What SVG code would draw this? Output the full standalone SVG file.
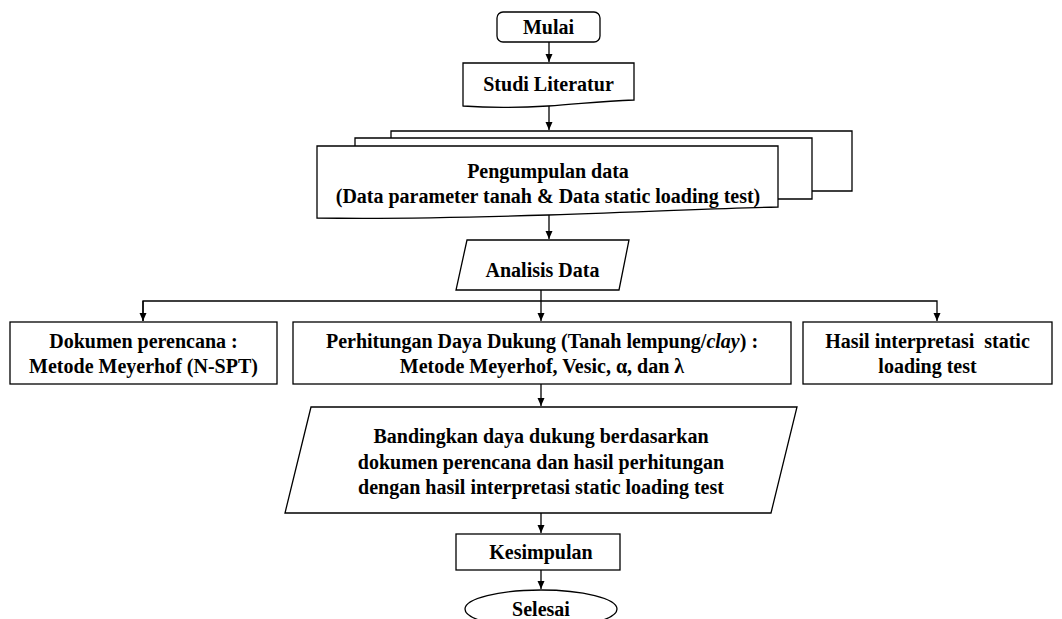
<svg xmlns="http://www.w3.org/2000/svg" width="1062" height="619" viewBox="0 0 1062 619">
<style>
.s{fill:#fff;stroke:#000;stroke-width:1.3}
.b{fill:none;stroke:#000;stroke-width:1.3}
.t{font-family:'Times New Roman','Liberation Serif',Times,serif;font-weight:700;font-size:20px;fill:#000;text-anchor:middle}
.c{fill:none;stroke:#000;stroke-width:1.3}
</style>
<defs>
<marker id="ah" markerWidth="9" markerHeight="9" refX="8" refY="4.5" orient="auto" markerUnits="userSpaceOnUse">
<path d="M0,1 L8,4.5 L0,8 Z" fill="#000"/>
</marker>
</defs>
<rect width="1062" height="619" fill="#fff"/>
<g id="connectors">
<path class="c" d="M549,42 V62" marker-end="url(#ah)"/>
<path class="c" d="M549,105 V130" marker-end="url(#ah)"/>
<path class="c" d="M549,215 V239" marker-end="url(#ah)"/>
<path class="c" d="M541,290 V321" marker-end="url(#ah)"/>
<path class="c" d="M143,321 V301 H937 V321" marker-end="url(#ah)"/>
<path class="c" d="M143,301 V321" marker-end="url(#ah)"/>
<path class="c" d="M541,384 V406" marker-end="url(#ah)"/>
<path class="c" d="M541,513 V533" marker-end="url(#ah)"/>
<path class="c" d="M541,570 V589" marker-end="url(#ah)"/>
</g>
<g id="mulai">
<rect class="s" x="497" y="12" width="103" height="30" rx="6"/>
<text class="t" x="548.5" y="34">Mulai</text>
</g>
<g id="studi">
<path class="s" d="M463,63 H634 V100 C 600,101 580,104 548,106 C 515,108 490,108 463,106 Z"/>
<text class="t" x="548.5" y="91">Studi Literatur</text>
</g>
<g id="pengumpulan">
<path class="b" d="M391,138 V131 H852 V191 H812"/>
<path class="b" d="M355,146 V138 H812 V199 H778"/>
<path class="s" d="M317,146 H778 V207 C 720,208 650,212 548,215 C 450,218 380,219 317,218 Z"/>
<text class="t" x="548" y="178">Pengumpulan data</text>
<text class="t" x="548" y="203">(Data parameter tanah &amp; Data static loading test)</text>
</g>
<g id="analisis">
<path class="s" d="M467,240 H629 L619,290 H456 Z"/>
<text class="t" x="542.5" y="277">Analisis Data</text>
</g>
<g id="dokumen">
<rect class="s" x="10" y="322" width="267" height="62"/>
<text class="t" x="143.5" y="348">Dokumen perencana :</text>
<text class="t" x="143.5" y="373">Metode Meyerhof (N-SPT)</text>
</g>
<g id="perhitungan">
<rect class="s" x="293" y="322" width="498" height="62"/>
<text class="t" x="542" y="348">Perhitungan Daya Dukung (Tanah lempung/<tspan font-style="italic">clay</tspan>) :</text>
<text class="t" x="542" y="373">Metode Meyerhof, Vesic, α, dan λ</text>
</g>
<g id="hasil">
<rect class="s" x="803" y="322" width="249" height="62"/>
<text class="t" x="927.5" y="348" xml:space="preserve">Hasil interpretasi  static</text>
<text class="t" x="927.5" y="373">loading test</text>
</g>
<g id="bandingkan">
<path class="s" d="M311,407 H797 L771,513 H285 Z"/>
<text class="t" x="541" y="443">Bandingkan daya dukung berdasarkan</text>
<text class="t" x="541" y="469">dokumen perencana dan hasil perhitungan</text>
<text class="t" x="541" y="494">dengan hasil interpretasi static loading test</text>
</g>
<g id="kesimpulan">
<rect class="s" x="456" y="534" width="164" height="36"/>
<text class="t" x="541" y="559">Kesimpulan</text>
</g>
<g id="selesai">
<ellipse class="s" cx="541" cy="609" rx="76" ry="19"/>
<text class="t" x="541" y="616">Selesai</text>
</g>
</svg>
